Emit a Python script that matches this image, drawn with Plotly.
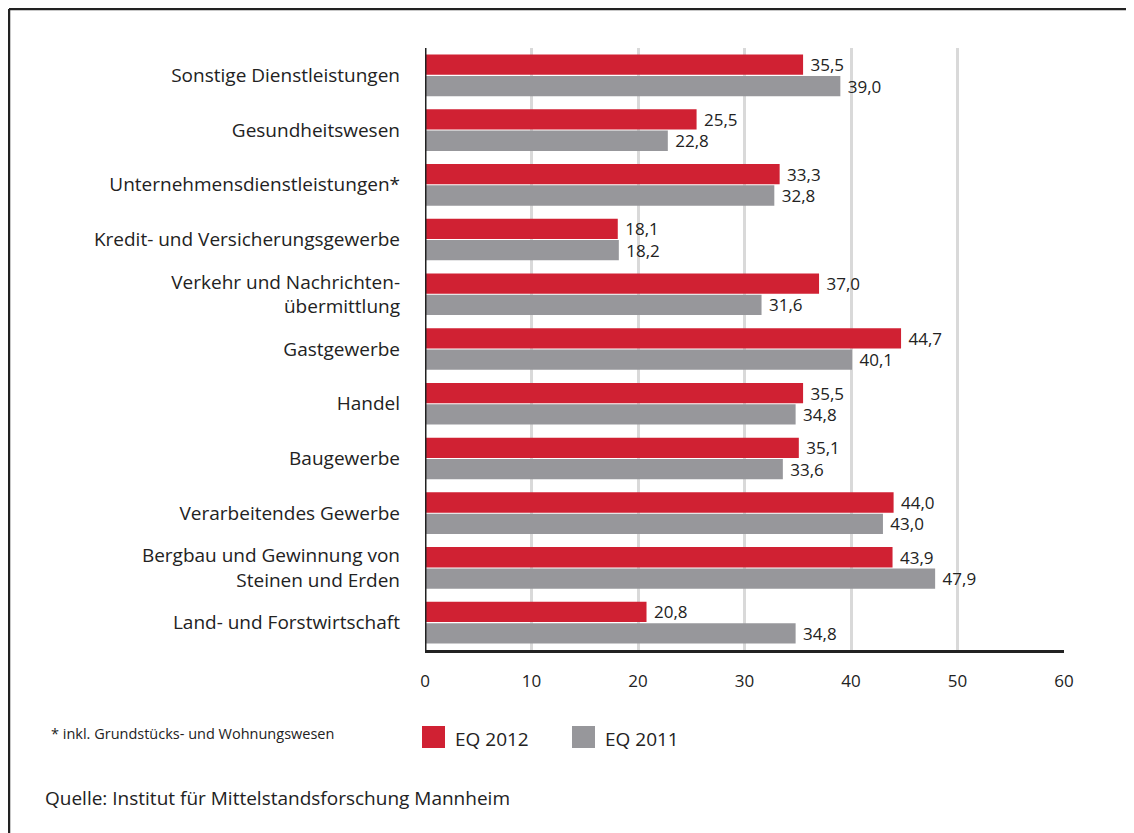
import plotly.graph_objects as go

# Branchen (top to bottom) and Eigenkapitalquoten in %
categories = [
    "Sonstige Dienstleistungen",
    "Gesundheitswesen",
    "Unternehmensdienstleistungen*",
    "Kredit- und Versicherungsgewerbe",
    "Verkehr und Nachrichten-<br>übermittlung",
    "Gastgewerbe",
    "Handel",
    "Baugewerbe",
    "Verarbeitendes Gewerbe",
    "Bergbau und Gewinnung von<br>Steinen und Erden",
    "Land- und Forstwirtschaft",
]
eq_2012 = [35.5, 25.5, 33.3, 18.1, 37.0, 44.7, 35.5, 35.1, 44.0, 43.9, 20.8]
eq_2011 = [39.0, 22.8, 32.8, 18.2, 31.6, 40.1, 34.8, 33.6, 43.0, 47.9, 34.8]
series_names = ["EQ 2012", "EQ 2011"]
x_ticks = [0, 10, 20, 30, 40, 50, 60]

RED = "#d02133"
GREY = "#97979b"
FONT = "Open Sans"
TXT = "#222222"

fig = go.Figure()
for name, vals, col in [(series_names[0], eq_2012, RED), (series_names[1], eq_2011, GREY)]:
    fig.add_trace(go.Bar(
        y=categories, x=vals, orientation="h", name=name,
        marker=dict(color=col, line=dict(width=0)),
        texttemplate="\u00a0%{x:.1f}", textposition="outside", constraintext="none",
        textfont=dict(family=FONT, size=17, color=TXT),
        cliponaxis=False,
    ))

# page has an 8px body margin, so figure coords = page coords - 8
OFF = 8
W, H = 1134 - OFF, 833 - OFF
L, R, T, B = 425 - OFF, 1064 - OFF, 48 - OFF, 650 - OFF
pw, ph = R - L, B - T
def px(x): return (x - OFF - L) / pw
def py(y): return (B - (y - OFF)) / ph

shapes = [
    # outer frame (top and left)
    dict(type="line", xref="paper", yref="paper", x0=px(9), x1=px(1140), y0=py(9), y1=py(9),
         line=dict(color="#222222", width=2.5)),
    dict(type="line", xref="paper", yref="paper", x0=px(9), x1=px(9), y0=py(9), y1=py(840),
         line=dict(color="#222222", width=2.5)),
]
annotations = [
    dict(text="* inkl. Grundstücks- und Wohnungswesen", xref="paper", yref="paper",
         x=px(49), y=py(733), xanchor="left", yanchor="middle", showarrow=False,
         font=dict(family=FONT, size=14.5, color=TXT)),
    dict(text="Quelle: Institut für Mittelstandsforschung Mannheim", xref="paper", yref="paper",
         x=px(43), y=py(798), xanchor="left", yanchor="middle", showarrow=False,
         font=dict(family=FONT, size=19, color=TXT)),
]
# legend drawn by hand (larger swatches)
for i, (name, col) in enumerate(zip(series_names, [RED, GREY])):
    x0 = 422 + i * 150
    shapes.append(dict(type="rect", xref="paper", yref="paper", x0=px(x0), x1=px(x0 + 23),
                       y0=py(748), y1=py(726), fillcolor=col, line=dict(width=0)))
    annotations.append(dict(text=name, xref="paper", yref="paper", x=px(x0 + 31), y=py(739),
                            xanchor="left", yanchor="middle", showarrow=False,
                            font=dict(family=FONT, size=19, color=TXT)))

fig.update_layout(
    width=W, height=H,
    margin=dict(l=L, r=W - R, t=T, b=H - B),
    paper_bgcolor="white", plot_bgcolor="white",
    barmode="group", bargap=0.22, bargroupgap=0.05,
    separators=",.",
    showlegend=False,
    font=dict(family=FONT, color=TXT),
    shapes=shapes, annotations=annotations,
    xaxis=dict(range=[0, 60], tickvals=x_ticks, showgrid=True, gridcolor="#d9d9d9", gridwidth=3,
               zeroline=False, showline=True, linecolor="#222222", linewidth=2.5,
               ticks="", ticklabelstandoff=14, tickfont=dict(size=17, color=TXT)),
    yaxis=dict(autorange="reversed", showline=False, zeroline=False, showgrid=False,
               ticks="", ticklabelstandoff=24, tickfont=dict(size=19, color=TXT)),
)
# y axis line at x=0
fig.add_shape(type="line", xref="x", yref="paper", x0=0, x1=0, y0=0, y1=1,
              line=dict(color="#222222", width=3))

fig.write_html("out.html")
